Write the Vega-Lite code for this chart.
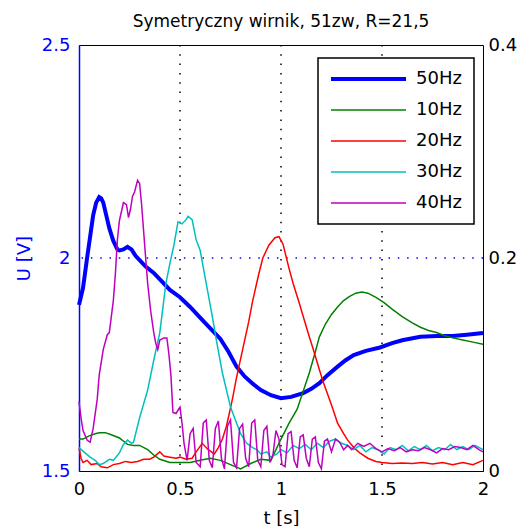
{
  "$schema": "https://vega.github.io/schema/vega-lite/v6.json",
  "width": 404,
  "height": 426,
  "autosize": "none",
  "padding": {"left": 79, "top": 45, "right": 36, "bottom": 55},
  "title": {"text": "Symetryczny wirnik, 51zw, R=21,5", "font": "DejaVu Sans", "fontSize": 17, "fontWeight": "normal", "color": "black", "baseline": "alphabetic", "offset": -8, "anchor": "middle", "frame": "group"},
  "config": {
    "font": "DejaVu Sans",
    "view": {"stroke": "black", "strokeWidth": 1},
    "axis": {"labelFont": "DejaVu Sans", "labelFontSize": 18, "labelColor": "black", "titleFont": "DejaVu Sans", "titleFontSize": 18, "titleFontWeight": "normal", "titleColor": "black", "ticks": false, "tickSize": 0, "grid": false, "domainColor": "black", "labelFlush": false, "labelOverlap": false},
    "legend": {"labelFont": "DejaVu Sans", "labelFontSize": 18, "labelColor": "black"}
  },
  "datasets": {
    "grid_t": [{"t": 0.5}, {"t": 1}, {"t": 1.5}],
    "grid_u": [{"u": 2}],
    "u50": [
      {"t": 0.0, "u": 1.89}, {"t": 0.02, "u": 1.93}, {"t": 0.04, "u": 2.0}, {"t": 0.055, "u": 2.05}, {"t": 0.07, "u": 2.1}, {"t": 0.085, "u": 2.13}, {"t": 0.1, "u": 2.143}, {"t": 0.11, "u": 2.14}, {"t": 0.12, "u": 2.13}, {"t": 0.13, "u": 2.11}, {"t": 0.14, "u": 2.09}, {"t": 0.15, "u": 2.07}, {"t": 0.16, "u": 2.055}, {"t": 0.17, "u": 2.04}, {"t": 0.18, "u": 2.03}, {"t": 0.19, "u": 2.02}, {"t": 0.2, "u": 2.018}, {"t": 0.22, "u": 2.02}, {"t": 0.24, "u": 2.026}, {"t": 0.26, "u": 2.02}, {"t": 0.28, "u": 2.005}, {"t": 0.3, "u": 1.995}, {"t": 0.33, "u": 1.98}, {"t": 0.37, "u": 1.965}, {"t": 0.41, "u": 1.945}, {"t": 0.45, "u": 1.925}, {"t": 0.5, "u": 1.908}, {"t": 0.55, "u": 1.885}, {"t": 0.61, "u": 1.855}, {"t": 0.65, "u": 1.835}, {"t": 0.7, "u": 1.81}, {"t": 0.74, "u": 1.78}, {"t": 0.78, "u": 1.745}, {"t": 0.82, "u": 1.722}, {"t": 0.86, "u": 1.705}, {"t": 0.9, "u": 1.69}, {"t": 0.95, "u": 1.678}, {"t": 1.0, "u": 1.671}, {"t": 1.05, "u": 1.674}, {"t": 1.11, "u": 1.683}, {"t": 1.15, "u": 1.693}, {"t": 1.19, "u": 1.706}, {"t": 1.23, "u": 1.725}, {"t": 1.28, "u": 1.745}, {"t": 1.32, "u": 1.76}, {"t": 1.36, "u": 1.772}, {"t": 1.42, "u": 1.782}, {"t": 1.49, "u": 1.79}, {"t": 1.55, "u": 1.8}, {"t": 1.6, "u": 1.807}, {"t": 1.69, "u": 1.815}, {"t": 1.77, "u": 1.817}, {"t": 1.85, "u": 1.817}, {"t": 1.92, "u": 1.82}, {"t": 2.0, "u": 1.824}
    ],
    "others": [
      {"s": "10Hz", "t": 0.0, "v": 0.03}, {"s": "10Hz", "t": 0.02, "v": 0.03}, {"s": "10Hz", "t": 0.05, "v": 0.033}, {"s": "10Hz", "t": 0.08, "v": 0.035}, {"s": "10Hz", "t": 0.1, "v": 0.036}, {"s": "10Hz", "t": 0.13, "v": 0.036}, {"s": "10Hz", "t": 0.16, "v": 0.034}, {"s": "10Hz", "t": 0.2, "v": 0.031}, {"s": "10Hz", "t": 0.24, "v": 0.025}, {"s": "10Hz", "t": 0.27, "v": 0.024}, {"s": "10Hz", "t": 0.3, "v": 0.024}, {"s": "10Hz", "t": 0.34, "v": 0.02}, {"s": "10Hz", "t": 0.37, "v": 0.015}, {"s": "10Hz", "t": 0.4, "v": 0.011}, {"s": "10Hz", "t": 0.45, "v": 0.008}, {"s": "10Hz", "t": 0.5, "v": 0.008}, {"s": "10Hz", "t": 0.55, "v": 0.008}, {"s": "10Hz", "t": 0.6, "v": 0.01}, {"s": "10Hz", "t": 0.65, "v": 0.012}, {"s": "10Hz", "t": 0.7, "v": 0.01}, {"s": "10Hz", "t": 0.75, "v": 0.006}, {"s": "10Hz", "t": 0.8, "v": 0.002}, {"s": "10Hz", "t": 0.85, "v": 0.007}, {"s": "10Hz", "t": 0.9, "v": 0.011}, {"s": "10Hz", "t": 0.95, "v": 0.01}, {"s": "10Hz", "t": 1.0, "v": 0.03}, {"s": "10Hz", "t": 1.04, "v": 0.045}, {"s": "10Hz", "t": 1.08, "v": 0.058}, {"s": "10Hz", "t": 1.11, "v": 0.075}, {"s": "10Hz", "t": 1.14, "v": 0.092}, {"s": "10Hz", "t": 1.17, "v": 0.112}, {"s": "10Hz", "t": 1.19, "v": 0.126}, {"s": "10Hz", "t": 1.22, "v": 0.138}, {"s": "10Hz", "t": 1.25, "v": 0.147}, {"s": "10Hz", "t": 1.28, "v": 0.154}, {"s": "10Hz", "t": 1.31, "v": 0.16}, {"s": "10Hz", "t": 1.34, "v": 0.164}, {"s": "10Hz", "t": 1.37, "v": 0.167}, {"s": "10Hz", "t": 1.4, "v": 0.168}, {"s": "10Hz", "t": 1.43, "v": 0.167}, {"s": "10Hz", "t": 1.47, "v": 0.163}, {"s": "10Hz", "t": 1.51, "v": 0.158}, {"s": "10Hz", "t": 1.55, "v": 0.152}, {"s": "10Hz", "t": 1.6, "v": 0.145}, {"s": "10Hz", "t": 1.65, "v": 0.139}, {"s": "10Hz", "t": 1.69, "v": 0.135}, {"s": "10Hz", "t": 1.73, "v": 0.132}, {"s": "10Hz", "t": 1.77, "v": 0.13}, {"s": "10Hz", "t": 1.81, "v": 0.127}, {"s": "10Hz", "t": 1.85, "v": 0.125}, {"s": "10Hz", "t": 1.9, "v": 0.123}, {"s": "10Hz", "t": 1.95, "v": 0.121}, {"s": "10Hz", "t": 2.0, "v": 0.119},
      {"s": "20Hz", "t": 0.0, "v": 0.022}, {"s": "20Hz", "t": 0.01, "v": 0.012}, {"s": "20Hz", "t": 0.02, "v": 0.008}, {"s": "20Hz", "t": 0.04, "v": 0.01}, {"s": "20Hz", "t": 0.06, "v": 0.006}, {"s": "20Hz", "t": 0.09, "v": 0.007}, {"s": "20Hz", "t": 0.11, "v": 0.004}, {"s": "20Hz", "t": 0.14, "v": 0.003}, {"s": "20Hz", "t": 0.17, "v": 0.006}, {"s": "20Hz", "t": 0.2, "v": 0.007}, {"s": "20Hz", "t": 0.23, "v": 0.009}, {"s": "20Hz", "t": 0.26, "v": 0.008}, {"s": "20Hz", "t": 0.29, "v": 0.009}, {"s": "20Hz", "t": 0.32, "v": 0.011}, {"s": "20Hz", "t": 0.35, "v": 0.011}, {"s": "20Hz", "t": 0.37, "v": 0.013}, {"s": "20Hz", "t": 0.4, "v": 0.018}, {"s": "20Hz", "t": 0.42, "v": 0.014}, {"s": "20Hz", "t": 0.45, "v": 0.013}, {"s": "20Hz", "t": 0.48, "v": 0.012}, {"s": "20Hz", "t": 0.5, "v": 0.013}, {"s": "20Hz", "t": 0.53, "v": 0.011}, {"s": "20Hz", "t": 0.56, "v": 0.012}, {"s": "20Hz", "t": 0.58, "v": 0.018}, {"s": "20Hz", "t": 0.61, "v": 0.026}, {"s": "20Hz", "t": 0.64, "v": 0.02}, {"s": "20Hz", "t": 0.67, "v": 0.016}, {"s": "20Hz", "t": 0.69, "v": 0.022}, {"s": "20Hz", "t": 0.71, "v": 0.03}, {"s": "20Hz", "t": 0.73, "v": 0.042}, {"s": "20Hz", "t": 0.76, "v": 0.068}, {"s": "20Hz", "t": 0.78, "v": 0.088}, {"s": "20Hz", "t": 0.81, "v": 0.114}, {"s": "20Hz", "t": 0.84, "v": 0.14}, {"s": "20Hz", "t": 0.86, "v": 0.16}, {"s": "20Hz", "t": 0.89, "v": 0.185}, {"s": "20Hz", "t": 0.91, "v": 0.2}, {"s": "20Hz", "t": 0.94, "v": 0.212}, {"s": "20Hz", "t": 0.97, "v": 0.219}, {"s": "20Hz", "t": 0.99, "v": 0.22}, {"s": "20Hz", "t": 1.01, "v": 0.213}, {"s": "20Hz", "t": 1.04, "v": 0.19}, {"s": "20Hz", "t": 1.06, "v": 0.176}, {"s": "20Hz", "t": 1.09, "v": 0.158}, {"s": "20Hz", "t": 1.11, "v": 0.145}, {"s": "20Hz", "t": 1.14, "v": 0.126}, {"s": "20Hz", "t": 1.16, "v": 0.114}, {"s": "20Hz", "t": 1.19, "v": 0.095}, {"s": "20Hz", "t": 1.21, "v": 0.083}, {"s": "20Hz", "t": 1.25, "v": 0.062}, {"s": "20Hz", "t": 1.28, "v": 0.045}, {"s": "20Hz", "t": 1.31, "v": 0.035}, {"s": "20Hz", "t": 1.33, "v": 0.029}, {"s": "20Hz", "t": 1.36, "v": 0.022}, {"s": "20Hz", "t": 1.39, "v": 0.017}, {"s": "20Hz", "t": 1.43, "v": 0.012}, {"s": "20Hz", "t": 1.47, "v": 0.009}, {"s": "20Hz", "t": 1.5, "v": 0.008}, {"s": "20Hz", "t": 1.55, "v": 0.007}, {"s": "20Hz", "t": 1.6, "v": 0.0075}, {"s": "20Hz", "t": 1.65, "v": 0.007}, {"s": "20Hz", "t": 1.7, "v": 0.008}, {"s": "20Hz", "t": 1.75, "v": 0.0065}, {"s": "20Hz", "t": 1.8, "v": 0.008}, {"s": "20Hz", "t": 1.85, "v": 0.006}, {"s": "20Hz", "t": 1.9, "v": 0.008}, {"s": "20Hz", "t": 1.95, "v": 0.006}, {"s": "20Hz", "t": 2.0, "v": 0.01},
      {"s": "30Hz", "t": 0.0, "v": 0.022}, {"s": "30Hz", "t": 0.03, "v": 0.017}, {"s": "30Hz", "t": 0.055, "v": 0.013}, {"s": "30Hz", "t": 0.08, "v": 0.01}, {"s": "30Hz", "t": 0.1, "v": 0.006}, {"s": "30Hz", "t": 0.12, "v": 0.007}, {"s": "30Hz", "t": 0.15, "v": 0.011}, {"s": "30Hz", "t": 0.17, "v": 0.01}, {"s": "30Hz", "t": 0.2, "v": 0.017}, {"s": "30Hz", "t": 0.22, "v": 0.025}, {"s": "30Hz", "t": 0.24, "v": 0.029}, {"s": "30Hz", "t": 0.26, "v": 0.026}, {"s": "30Hz", "t": 0.27, "v": 0.027}, {"s": "30Hz", "t": 0.3, "v": 0.05}, {"s": "30Hz", "t": 0.32, "v": 0.063}, {"s": "30Hz", "t": 0.34, "v": 0.076}, {"s": "30Hz", "t": 0.37, "v": 0.104}, {"s": "30Hz", "t": 0.4, "v": 0.13}, {"s": "30Hz", "t": 0.43, "v": 0.176}, {"s": "30Hz", "t": 0.45, "v": 0.195}, {"s": "30Hz", "t": 0.47, "v": 0.212}, {"s": "30Hz", "t": 0.49, "v": 0.234}, {"s": "30Hz", "t": 0.51, "v": 0.232}, {"s": "30Hz", "t": 0.53, "v": 0.236}, {"s": "30Hz", "t": 0.54, "v": 0.239}, {"s": "30Hz", "t": 0.56, "v": 0.236}, {"s": "30Hz", "t": 0.58, "v": 0.217}, {"s": "30Hz", "t": 0.6, "v": 0.207}, {"s": "30Hz", "t": 0.63, "v": 0.176}, {"s": "30Hz", "t": 0.66, "v": 0.145}, {"s": "30Hz", "t": 0.68, "v": 0.123}, {"s": "30Hz", "t": 0.71, "v": 0.092}, {"s": "30Hz", "t": 0.75, "v": 0.06}, {"s": "30Hz", "t": 0.78, "v": 0.045}, {"s": "30Hz", "t": 0.8, "v": 0.035}, {"s": "30Hz", "t": 0.83, "v": 0.026}, {"s": "30Hz", "t": 0.86, "v": 0.022}, {"s": "30Hz", "t": 0.88, "v": 0.02}, {"s": "30Hz", "t": 0.9, "v": 0.016}, {"s": "30Hz", "t": 0.93, "v": 0.018}, {"s": "30Hz", "t": 0.95, "v": 0.013}, {"s": "30Hz", "t": 0.98, "v": 0.016}, {"s": "30Hz", "t": 1.0, "v": 0.02}, {"s": "30Hz", "t": 1.03, "v": 0.017}, {"s": "30Hz", "t": 1.06, "v": 0.024}, {"s": "30Hz", "t": 1.09, "v": 0.021}, {"s": "30Hz", "t": 1.12, "v": 0.025}, {"s": "30Hz", "t": 1.15, "v": 0.02}, {"s": "30Hz", "t": 1.18, "v": 0.026}, {"s": "30Hz", "t": 1.21, "v": 0.022}, {"s": "30Hz", "t": 1.24, "v": 0.028}, {"s": "30Hz", "t": 1.27, "v": 0.03}, {"s": "30Hz", "t": 1.3, "v": 0.026}, {"s": "30Hz", "t": 1.33, "v": 0.024}, {"s": "30Hz", "t": 1.36, "v": 0.02}, {"s": "30Hz", "t": 1.39, "v": 0.024}, {"s": "30Hz", "t": 1.42, "v": 0.018}, {"s": "30Hz", "t": 1.45, "v": 0.022}, {"s": "30Hz", "t": 1.48, "v": 0.02}, {"s": "30Hz", "t": 1.51, "v": 0.016}, {"s": "30Hz", "t": 1.54, "v": 0.022}, {"s": "30Hz", "t": 1.57, "v": 0.02}, {"s": "30Hz", "t": 1.6, "v": 0.024}, {"s": "30Hz", "t": 1.63, "v": 0.019}, {"s": "30Hz", "t": 1.66, "v": 0.023}, {"s": "30Hz", "t": 1.69, "v": 0.02}, {"s": "30Hz", "t": 1.72, "v": 0.024}, {"s": "30Hz", "t": 1.75, "v": 0.019}, {"s": "30Hz", "t": 1.78, "v": 0.022}, {"s": "30Hz", "t": 1.81, "v": 0.02}, {"s": "30Hz", "t": 1.84, "v": 0.025}, {"s": "30Hz", "t": 1.87, "v": 0.02}, {"s": "30Hz", "t": 1.9, "v": 0.023}, {"s": "30Hz", "t": 1.93, "v": 0.02}, {"s": "30Hz", "t": 1.96, "v": 0.024}, {"s": "30Hz", "t": 2.0, "v": 0.02},
      {"s": "40Hz", "t": 0.0, "v": 0.065}, {"s": "40Hz", "t": 0.01, "v": 0.05}, {"s": "40Hz", "t": 0.02, "v": 0.038}, {"s": "40Hz", "t": 0.04, "v": 0.029}, {"s": "40Hz", "t": 0.055, "v": 0.027}, {"s": "40Hz", "t": 0.07, "v": 0.04}, {"s": "40Hz", "t": 0.09, "v": 0.067}, {"s": "40Hz", "t": 0.1, "v": 0.09}, {"s": "40Hz", "t": 0.12, "v": 0.114}, {"s": "40Hz", "t": 0.14, "v": 0.128}, {"s": "40Hz", "t": 0.15, "v": 0.13}, {"s": "40Hz", "t": 0.16, "v": 0.145}, {"s": "40Hz", "t": 0.17, "v": 0.16}, {"s": "40Hz", "t": 0.18, "v": 0.185}, {"s": "40Hz", "t": 0.19, "v": 0.217}, {"s": "40Hz", "t": 0.2, "v": 0.235}, {"s": "40Hz", "t": 0.22, "v": 0.252}, {"s": "40Hz", "t": 0.235, "v": 0.25}, {"s": "40Hz", "t": 0.245, "v": 0.238}, {"s": "40Hz", "t": 0.255, "v": 0.246}, {"s": "40Hz", "t": 0.265, "v": 0.258}, {"s": "40Hz", "t": 0.275, "v": 0.262}, {"s": "40Hz", "t": 0.29, "v": 0.273}, {"s": "40Hz", "t": 0.3, "v": 0.27}, {"s": "40Hz", "t": 0.31, "v": 0.25}, {"s": "40Hz", "t": 0.32, "v": 0.225}, {"s": "40Hz", "t": 0.33, "v": 0.2}, {"s": "40Hz", "t": 0.34, "v": 0.176}, {"s": "40Hz", "t": 0.355, "v": 0.15}, {"s": "40Hz", "t": 0.37, "v": 0.13}, {"s": "40Hz", "t": 0.38, "v": 0.12}, {"s": "40Hz", "t": 0.39, "v": 0.114}, {"s": "40Hz", "t": 0.4, "v": 0.123}, {"s": "40Hz", "t": 0.42, "v": 0.125}, {"s": "40Hz", "t": 0.435, "v": 0.125}, {"s": "40Hz", "t": 0.445, "v": 0.11}, {"s": "40Hz", "t": 0.455, "v": 0.09}, {"s": "40Hz", "t": 0.465, "v": 0.055}, {"s": "40Hz", "t": 0.48, "v": 0.054}, {"s": "40Hz", "t": 0.5, "v": 0.06}, {"s": "40Hz", "t": 0.51, "v": 0.045}, {"s": "40Hz", "t": 0.52, "v": 0.026}, {"s": "40Hz", "t": 0.535, "v": 0.01}, {"s": "40Hz", "t": 0.55, "v": 0.035}, {"s": "40Hz", "t": 0.565, "v": 0.04}, {"s": "40Hz", "t": 0.58, "v": 0.008}, {"s": "40Hz", "t": 0.6, "v": 0.004}, {"s": "40Hz", "t": 0.615, "v": 0.045}, {"s": "40Hz", "t": 0.63, "v": 0.048}, {"s": "40Hz", "t": 0.645, "v": 0.01}, {"s": "40Hz", "t": 0.66, "v": 0.003}, {"s": "40Hz", "t": 0.675, "v": 0.04}, {"s": "40Hz", "t": 0.69, "v": 0.047}, {"s": "40Hz", "t": 0.705, "v": 0.012}, {"s": "40Hz", "t": 0.72, "v": 0.002}, {"s": "40Hz", "t": 0.735, "v": 0.042}, {"s": "40Hz", "t": 0.75, "v": 0.048}, {"s": "40Hz", "t": 0.765, "v": 0.008}, {"s": "40Hz", "t": 0.78, "v": 0.003}, {"s": "40Hz", "t": 0.795, "v": 0.04}, {"s": "40Hz", "t": 0.81, "v": 0.044}, {"s": "40Hz", "t": 0.825, "v": 0.012}, {"s": "40Hz", "t": 0.84, "v": 0.004}, {"s": "40Hz", "t": 0.855, "v": 0.045}, {"s": "40Hz", "t": 0.87, "v": 0.048}, {"s": "40Hz", "t": 0.885, "v": 0.01}, {"s": "40Hz", "t": 0.9, "v": 0.004}, {"s": "40Hz", "t": 0.915, "v": 0.038}, {"s": "40Hz", "t": 0.93, "v": 0.042}, {"s": "40Hz", "t": 0.945, "v": 0.008}, {"s": "40Hz", "t": 0.96, "v": 0.015}, {"s": "40Hz", "t": 0.975, "v": 0.038}, {"s": "40Hz", "t": 0.99, "v": 0.03}, {"s": "40Hz", "t": 1.005, "v": 0.006}, {"s": "40Hz", "t": 1.02, "v": 0.004}, {"s": "40Hz", "t": 1.035, "v": 0.035}, {"s": "40Hz", "t": 1.05, "v": 0.037}, {"s": "40Hz", "t": 1.065, "v": 0.01}, {"s": "40Hz", "t": 1.08, "v": 0.003}, {"s": "40Hz", "t": 1.095, "v": 0.032}, {"s": "40Hz", "t": 1.11, "v": 0.034}, {"s": "40Hz", "t": 1.125, "v": 0.012}, {"s": "40Hz", "t": 1.14, "v": 0.004}, {"s": "40Hz", "t": 1.155, "v": 0.03}, {"s": "40Hz", "t": 1.17, "v": 0.032}, {"s": "40Hz", "t": 1.185, "v": 0.008}, {"s": "40Hz", "t": 1.2, "v": 0.002}, {"s": "40Hz", "t": 1.215, "v": 0.028}, {"s": "40Hz", "t": 1.23, "v": 0.03}, {"s": "40Hz", "t": 1.25, "v": 0.018}, {"s": "40Hz", "t": 1.27, "v": 0.03}, {"s": "40Hz", "t": 1.29, "v": 0.027}, {"s": "40Hz", "t": 1.31, "v": 0.02}, {"s": "40Hz", "t": 1.33, "v": 0.024}, {"s": "40Hz", "t": 1.35, "v": 0.02}, {"s": "40Hz", "t": 1.38, "v": 0.026}, {"s": "40Hz", "t": 1.41, "v": 0.023}, {"s": "40Hz", "t": 1.44, "v": 0.026}, {"s": "40Hz", "t": 1.47, "v": 0.021}, {"s": "40Hz", "t": 1.5, "v": 0.018}, {"s": "40Hz", "t": 1.53, "v": 0.021}, {"s": "40Hz", "t": 1.56, "v": 0.019}, {"s": "40Hz", "t": 1.59, "v": 0.022}, {"s": "40Hz", "t": 1.62, "v": 0.018}, {"s": "40Hz", "t": 1.65, "v": 0.02}, {"s": "40Hz", "t": 1.68, "v": 0.019}, {"s": "40Hz", "t": 1.71, "v": 0.022}, {"s": "40Hz", "t": 1.74, "v": 0.02}, {"s": "40Hz", "t": 1.77, "v": 0.017}, {"s": "40Hz", "t": 1.8, "v": 0.021}, {"s": "40Hz", "t": 1.83, "v": 0.02}, {"s": "40Hz", "t": 1.86, "v": 0.023}, {"s": "40Hz", "t": 1.89, "v": 0.022}, {"s": "40Hz", "t": 1.92, "v": 0.02}, {"s": "40Hz", "t": 1.95, "v": 0.024}, {"s": "40Hz", "t": 1.98, "v": 0.02}, {"s": "40Hz", "t": 2.0, "v": 0.018}
    ]
  },
  "layer": [
    {
      "data": {"name": "grid_t"},
      "mark": {"type": "rule", "color": "black", "strokeWidth": 1.5, "strokeDash": [1.5, 7.8]},
      "encoding": {
        "x": {"field": "t", "type": "quantitative", "scale": {"domain": [0, 2], "nice": false, "zero": false}, "title": "t [s]", "axis": {"values": [0, 0.5, 1, 1.5, 2], "format": "~g", "labelPadding": 9.5, "titleY": 52, "titleBaseline": "alphabetic"}}
      }
    },
    {
      "data": {"name": "grid_u"},
      "mark": {"type": "rule", "color": "#0000ff", "strokeWidth": 1.5, "strokeDash": [1.5, 7.8]},
      "encoding": {
        "y": {"field": "u", "type": "quantitative", "scale": {"domain": [1.5, 2.5], "nice": false, "zero": false}, "axis": null}
      }
    },
    {
      "data": {"name": "u50"},
      "mark": {"type": "line", "color": "#0000ff", "strokeWidth": 4, "interpolate": "linear"},
      "encoding": {
        "x": {"field": "t", "type": "quantitative", "scale": {"domain": [0, 2], "nice": false, "zero": false}, "title": "t [s]"},
        "y": {"field": "u", "type": "quantitative", "scale": {"domain": [1.5, 2.5], "nice": false, "zero": false}, "title": "U [V]", "axis": {"orient": "left", "values": [1.5, 2, 2.5], "format": "~g", "labelColor": "#0000ff", "titleColor": "#0000ff", "domainColor": "#0000ff", "domainWidth": 1.5, "labelPadding": 9, "titleX": -50, "titleBaseline": "alphabetic"}}
      }
    },
    {
      "data": {"name": "others"},
      "mark": {"type": "line", "strokeWidth": 1.5, "interpolate": "linear"},
      "encoding": {
        "x": {"field": "t", "type": "quantitative", "scale": {"domain": [0, 2], "nice": false, "zero": false}, "title": "t [s]"},
        "y": {"field": "v", "type": "quantitative", "scale": {"domain": [0, 0.4], "nice": false, "zero": false}, "axis": {"orient": "right", "values": [0, 0.2, 0.4], "format": "~g", "title": null, "labelPadding": 5, "domain": false}},
        "color": {"field": "s", "type": "nominal", "scale": {"domain": ["50Hz", "10Hz", "20Hz", "30Hz", "40Hz"], "range": ["#0000ff", "#008000", "#ff0000", "#00bfbf", "#bf00bf"]},
          "legend": {"title": null, "orient": "none", "legendX": 239, "legendY": 13, "symbolType": "stroke", "symbolSize": 5625, "symbolStrokeWidth": 1.5, "clipHeight": 18, "rowPadding": 13, "padding": 12, "labelOffset": 9, "labelFontSize": 18, "strokeColor": "black", "fillColor": "white",
            "encode": {"symbols": {"update": {"strokeWidth": {"signal": "(datum.value === '50Hz' ? 4 : 1.5)"}}}, "legend": {"update": {"strokeWidth": {"value": 1.5}}}}}
        }
      }
    }
  ],
  "resolve": {"scale": {"y": "independent"}}
}
